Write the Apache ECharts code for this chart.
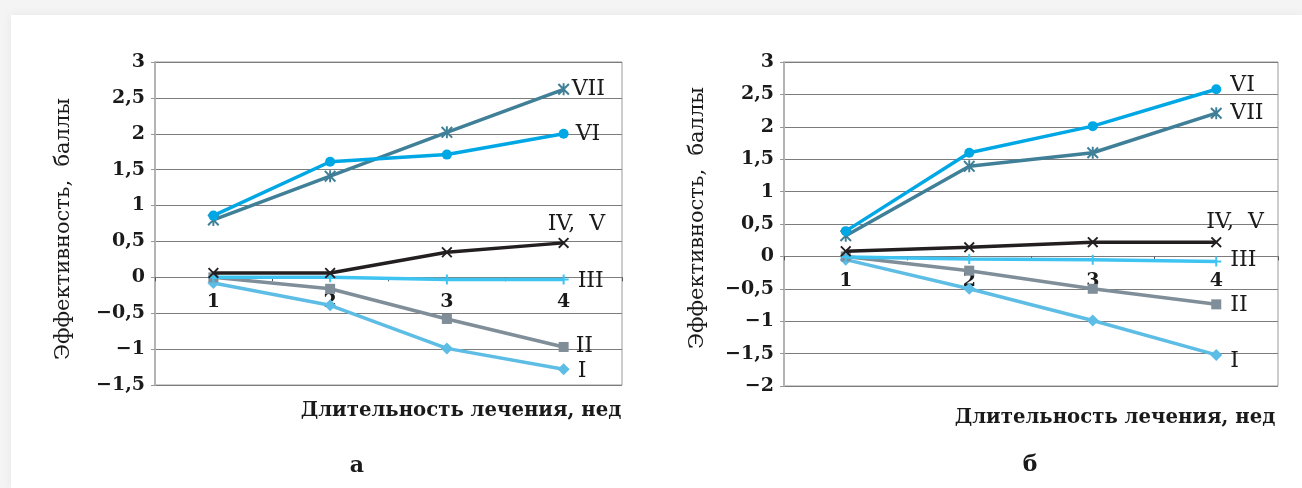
<!DOCTYPE html>
<html>
<head>
<meta charset="utf-8">
<script src="https://cdn.jsdelivr.net/npm/echarts@6/dist/echarts.min.js"></script>
<style>
html,body{margin:0;padding:0;background:#f4f4f4;}
#card{position:absolute;left:11px;top:15px;width:1291px;height:473px;background:#fff;box-shadow:0 0 10px rgba(0,0,0,0.06);}
#chart{position:absolute;left:0;top:0;width:1302px;height:488px;}
</style>
</head>
<body>
<div id="card"></div>
<div id="chart"></div>
<script>
// ---- data ----
const categories = ['1', '2', '3', '4'];
const seriesNames = ['I', 'II', 'III', 'IV,  V', 'VI', 'VII'];
// panel а
const a_I   = [-0.08, -0.39, -0.99, -1.28];
const a_II  = [0.00, -0.16, -0.58, -0.97];
const a_III = [0.00, 0.00, -0.03, -0.03];
const a_IVV = [0.06, 0.06, 0.35, 0.48];
const a_VI  = [0.86, 1.61, 1.71, 2.00];
const a_VII = [0.80, 1.41, 2.02, 2.62];
// panel б
const b_I   = [-0.05, -0.50, -0.99, -1.52];
const b_II  = [0.00, -0.22, -0.50, -0.74];
const b_III = [-0.01, -0.04, -0.05, -0.08];
const b_IVV = [0.08, 0.14, 0.22, 0.22];
const b_VI  = [0.39, 1.60, 2.01, 2.58];
const b_VII = [0.32, 1.39, 1.60, 2.21];
// axis ranges / titles
const a_yRange = [-1.5, 3];
const b_yRange = [-2, 3];
const yTitle = 'Эффективность,  баллы';
const xTitle = 'Длительность лечения, нед';
const panelLabels = ['а', 'б'];

const SERIF = '"DejaVu Serif", "Liberation Serif", serif';
const colors = ['#5dbde5', '#7f8e98', '#3fc4f2', '#231f20', '#00a7e5', '#3f7f97'];
const symbols = [
  'diamond',
  'rect',
  'path://M4,0H6V4H10V6H6V10H4V6H0V4H4Z',
  'path://M0,1.2L1.2,0L5,3.8L8.8,0L10,1.2L6.2,5L10,8.8L8.8,10L5,6.2L1.2,10L0,8.8L3.8,5Z',
  'circle',
  'path://M0,1.2L1.2,0L5,3.8L8.8,0L10,1.2L6.2,5L10,8.8L8.8,10L5,6.2L1.2,10L0,8.8L3.8,5ZM4.2,0H5.8V10H4.2Z'
];
const symbolSizes = [12, 10, 10, 11, 10, 12];

const fmt = v => String(v).replace('.', ',').replace('-', '\u2212');

function yAxis(idx, range) {
  return {
    type: 'value', gridIndex: idx, min: range[0], max: range[1], interval: 0.5,
    axisLine: {show: true, onZero: false, lineStyle: {color: '#b4b4b4', width: 2}},
    axisTick: {show: true, length: 4, lineStyle: {color: '#999'}},
    axisLabel: {margin: 10, fontFamily: SERIF, fontSize: 19, fontWeight: 'bold', color: '#1a1a1a', formatter: fmt},
    splitLine: {lineStyle: {color: '#7c7c7c', width: 1}}
  };
}
function xAxis(idx, off) {
  return {
    type: 'category', gridIndex: idx, data: categories, boundaryGap: true,
    position: 'bottom', offset: off,
    axisLine: {show: true, onZero: false, lineStyle: {color: '#7c7c7c', width: 1}},
    axisTick: {show: true, length: 4, lineStyle: {color: '#555'}},
    axisLabel: {margin: 15, fontFamily: SERIF, fontSize: 19, fontWeight: 'bold', color: '#1a1a1a'},
    splitLine: {show: false}
  };
}

const aData = [a_I, a_II, a_III, a_IVV, a_VI, a_VII];
const bData = [b_I, b_II, b_III, b_IVV, b_VI, b_VII];
const aOffsets = [[9, 2], [7, -1], [9, 2], [-21, -19], [7, 1], [3, 0]];
const bOffsets = [[9, 6], [9, 1], [9, -1], [-15, -20], [9, -4], [9, 0]];

const series = [];
[aData, bData].forEach((set, p) => {
  set.forEach((vals, i) => {
    const off = (p === 0 ? aOffsets : bOffsets)[i];
    series.push({
      type: 'line', name: seriesNames[i], xAxisIndex: p, yAxisIndex: p,
      data: vals, z: 10 - Math.abs(3 - i),
      symbol: symbols[i], symbolSize: symbolSizes[i], showAllSymbol: true,
      lineStyle: {color: colors[i], width: 3.5},
      itemStyle: {color: colors[i]},
      endLabel: {show: true, formatter: '{a}', fontFamily: SERIF, fontSize: 22, color: '#1a1a1a', offset: off, distance: 5},
      animation: false
    });
  });
});

// zero-line offsets for the category axes (grid heights 323 / 324)
const aZeroOffset = -(323 * (0 - a_yRange[0]) / (a_yRange[1] - a_yRange[0]));
const bZeroOffset = -(324 * (0 - b_yRange[0]) / (b_yRange[1] - b_yRange[0]));

const chart = echarts.init(document.getElementById('chart'), null, {renderer: 'canvas'});
chart.setOption({
  backgroundColor: 'transparent',
  animation: false,
  grid: [
    {left: 155, top: 62, width: 467, height: 323, show: true, borderColor: '#9a9a9a', borderWidth: 1, backgroundColor: 'transparent'},
    {left: 784, top: 62, width: 494, height: 324, show: true, borderColor: '#9a9a9a', borderWidth: 1, backgroundColor: 'transparent'}
  ],
  xAxis: [xAxis(0, aZeroOffset), xAxis(1, bZeroOffset)],
  yAxis: [yAxis(0, a_yRange), yAxis(1, b_yRange)],
  series: series,
  graphic: [
    {type: 'text', x: 64, y: 229, rotation: Math.PI / 2, style: {text: yTitle, font: '21px ' + SERIF, fill: '#1a1a1a', textAlign: 'center', textVerticalAlign: 'middle'}},
    {type: 'text', x: 698, y: 218, rotation: Math.PI / 2, style: {text: yTitle, font: '21px ' + SERIF, fill: '#1a1a1a', textAlign: 'center', textVerticalAlign: 'middle'}},
    {type: 'text', x: 461, y: 411, style: {text: xTitle, font: 'bold 19.7px ' + SERIF, fill: '#1a1a1a', textAlign: 'center', textVerticalAlign: 'middle'}},
    {type: 'text', x: 1115, y: 418, style: {text: xTitle, font: 'bold 19.7px ' + SERIF, fill: '#1a1a1a', textAlign: 'center', textVerticalAlign: 'middle'}},
    {type: 'text', x: 357, y: 466, style: {text: panelLabels[0], font: 'bold 22px ' + SERIF, fill: '#1a1a1a', textAlign: 'center', textVerticalAlign: 'middle'}},
    {type: 'text', x: 1030, y: 465, style: {text: panelLabels[1], font: 'bold 22px ' + SERIF, fill: '#1a1a1a', textAlign: 'center', textVerticalAlign: 'middle'}}
  ]
});
</script>
</body>
</html>
